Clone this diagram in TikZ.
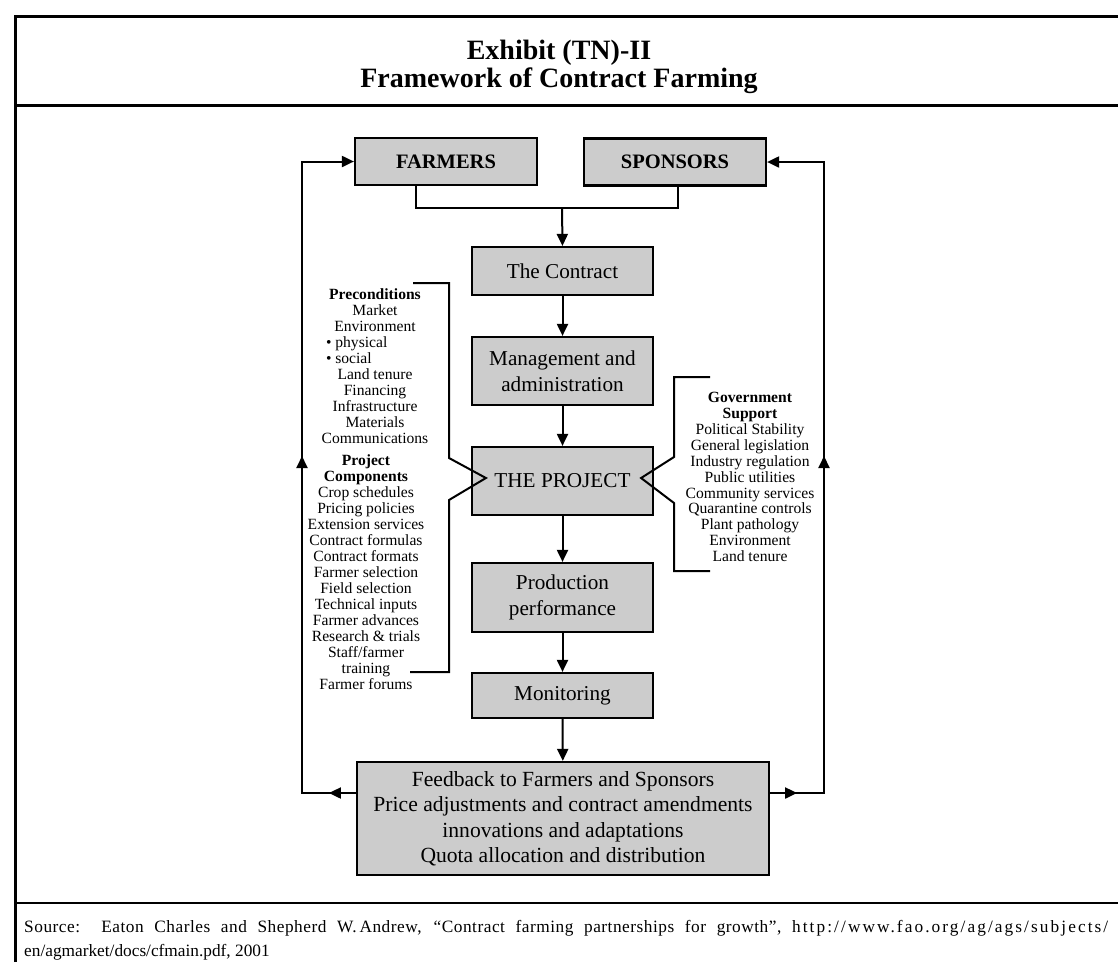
\documentclass[tikz,border=0pt]{standalone}
\usepackage{fontspec}
\setmainfont{Liberation Serif}
\usetikzlibrary{arrows.meta}
\definecolor{boxgray}{RGB}{204,204,204}
\begin{document}
\begin{tikzpicture}[x=1pt,y=-1pt,
  fbox/.style={draw, line width=2.2pt, fill=boxgray, inner sep=0pt, align=center,
    font=\fontsize{21.2}{26}\selectfont},
  topbox/.style={fbox, minimum width=182pt, minimum height=47pt,
    font=\fontsize{20.5}{24}\selectfont\bfseries},
  midbox/.style={fbox, minimum width=181pt},
  conn/.style={line width=2pt, line join=miter},
  arr/.style={conn, -{Triangle[length=12pt,width=11pt]}},
  small/.style={inner sep=0pt, align=center, font=\fontsize{15.6}{16}\selectfont},
  frameline/.style={line width=3pt}
]
\useasboundingbox (0,0) rectangle (1118,962);
% frame
\draw[frameline] (15,962) -- (15,16) -- (1120,16);
\draw[frameline] (15,105) -- (1120,105);
\draw[line width=2.5pt] (15,903) -- (1120,903);

% title
\node[inner sep=0pt, align=center, font=\fontsize{28}{28}\selectfont\bfseries] (title) at (559,66.5)
  {Exhibit (TN)-II\\Framework of Contract Farming};

% boxes
\node[topbox] (farmers) at (446,161.5) {FARMERS};
\node[topbox] (sponsors) at (675,162) {SPONSORS};
\node[midbox, minimum height=48pt] (contract) at (562.5,271) {The Contract};
\node[midbox, minimum height=68pt] (mgmt) at (562.5,371) {Management and\\administration};
\node[midbox, minimum height=68pt] (project) at (562.5,481) {THE PROJECT};
\node[midbox, minimum height=69pt] (prod) at (562.5,597.5) {Production\\performance};
\node[midbox, minimum height=45pt] (mon) at (562.5,695.5) {Monitoring};
\node[fbox, minimum width=412pt, minimum height=113pt, font=\fontsize{21.6}{25.5}\selectfont] (fb) at (563,818.5)
  {Feedback to Farmers and Sponsors\\Price adjustments and contract amendments\\innovations and adaptations\\Quota allocation and distribution};

% top connector
\coordinate (j) at (562,208);
\draw[conn] ([xshift=-30pt]farmers.south) |- (j) -| ([xshift=3pt]sponsors.south);
\draw[arr] (j) -- (contract.north);
\draw[arr] (contract) -- (mgmt);
\draw[arr] (mgmt) -- (project);
\draw[arr] (project) -- (prod);
\draw[arr] (prod) -- (mon);
\draw[arr] (mon) -- (fb);

% feedback loops
\coordinate (lb) at (302,793);
\coordinate (lt) at (302,161.5);
\coordinate (lmid) at (302,456);
\coordinate (rb) at (824,793);
\coordinate (rt) at (824,162);
\coordinate (rmid) at (824,456);
\draw[arr] (fb.west |- lb) -- (lb) -- (lt) -- (farmers.west);
\draw[arr] (fb.west |- lb) -- ++(-27,0);
\draw[arr] (lb) -- (lmid);
\draw[arr] (fb.east |- rb) -- (rb) -- (rt) -- (sponsors.east);
\draw[arr] (fb.east |- rb) -- ++(27,0);
\draw[arr] (rb) -- (rmid);

% brackets
\coordinate (ltip) at ([xshift=15pt,yshift=3pt]project.west);
\coordinate (rtip) at ([xshift=-13pt,yshift=3pt]project.east);
\draw[conn] (413,283) -- (449,283) -- (449,458) -- (ltip) -- (449,500) -- (449,672) -- (410,672);
\draw[conn] (710,377) -- (674,377) -- (674,457) -- (rtip) -- (674,503) -- (674,571) -- (710,571);

% side texts
\node[small] (pre) at (375,366.5) {\textbf{Preconditions}\\Market\\Environment\\
  \makebox[98pt][l]{\textbullet\ physical}\\\makebox[98pt][l]{\textbullet\ social}\\
  Land tenure\\Financing\\Infrastructure\\Materials\\Communications};
\node[small] (comp) at (366,572) {\textbf{Project}\\\textbf{Components}\\Crop schedules\\Pricing policies\\
  Extension services\\Contract formulas\\Contract formats\\Farmer selection\\Field selection\\
  Technical inputs\\Farmer advances\\Research \& trials\\Staff/farmer\\training\\Farmer forums};
\node[small, font=\fontsize{15.6}{15.9}\selectfont] (gov) at (750,477) {\textbf{Government}\\\textbf{Support}\\
  Political Stability\\General legislation\\Industry regulation\\Public utilities\\Community services\\
  Quarantine controls\\Plant pathology\\Environment\\Land tenure};

% source
\node[anchor=west, inner sep=0pt, align=left, font=\fontsize{17.3}{24}\selectfont] (src) at (24,940.5)
  {\makebox[1084pt][s]{{\addfontfeature{LetterSpace=3}Source:\ \ Eaton Charles and Shepherd W.\,Andrew, “Contract farming partnerships for growth”,} {\addfontfeature{LetterSpace=12}http://www.fao.org/ag/ags/subjects/}}\\
   en/agmarket/docs/cfmain.pdf, 2001};
\end{tikzpicture}
\end{document}
